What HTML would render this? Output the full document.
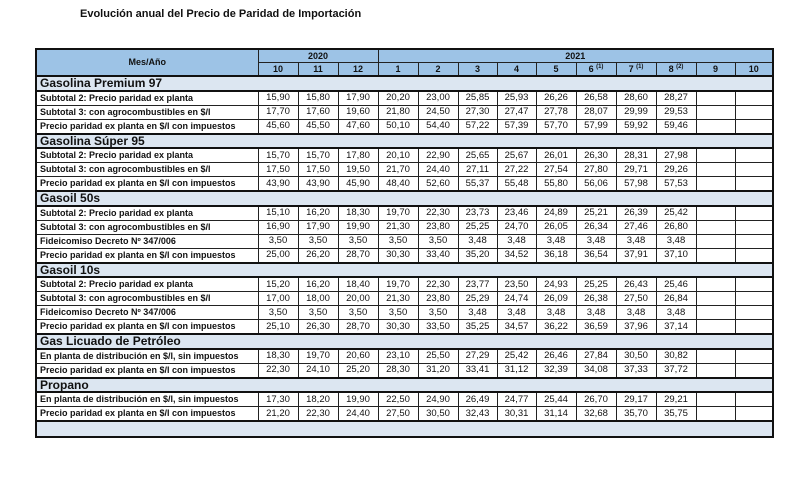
<!DOCTYPE html>
<html><head><meta charset="utf-8"><style>
body{margin:0;background:#fff;width:803px;height:482px;position:relative;overflow:hidden;font-family:"Liberation Sans",sans-serif;}
.t{position:absolute;left:80px;top:8px;font-size:11px;font-weight:bold;color:#111;}
table{position:absolute;left:35px;top:48px;border-collapse:collapse;table-layout:fixed;border:2px solid #111;}
td{border:1px solid #222;padding:0;font-size:9.5px;color:#111;text-align:center;overflow:hidden;white-space:nowrap;line-height:1;}
.h td{background:#9dc3e6;font-weight:bold;height:12px;font-size:9px;}
.g td{background:#dce6f1;font-weight:bold;font-size:12px;text-align:left;padding-left:3px;height:12.5px;border-left:none;border-right:none;border-top:2px solid #111;border-bottom:2px solid #111;}
.d td{height:13px;}
.d td:first-child{text-align:left;font-weight:bold;font-size:9px;padding-left:3px;}
.e td{background:#dce6f1;height:14px;border-top:2px solid #111;}
sup{font-size:6px;vertical-align:4px;line-height:0;}
</style></head><body>
<div class="t">Evolución anual del Precio de Paridad de Importación</div>
<table>
<colgroup><col style="width:222px"><col style="width:40px"><col style="width:40px"><col style="width:40px"><col style="width:40px"><col style="width:40px"><col style="width:39px"><col style="width:39px"><col style="width:40px"><col style="width:40px"><col style="width:40px"><col style="width:40px"><col style="width:39px"><col style="width:38px"></colgroup>
<tr class="h"><td rowspan="2">Mes/Año</td><td colspan="3">2020</td><td colspan="10">2021</td></tr>
<tr class="h"><td>10</td><td>11</td><td>12</td><td>1</td><td>2</td><td>3</td><td>4</td><td>5</td><td>6 <sup>(1)</sup></td><td>7 <sup>(1)</sup></td><td>8 <sup>(2)</sup></td><td>9</td><td>10</td></tr>
<tr class="g"><td colspan="14">Gasolina Premium 97</td></tr>
<tr class="d"><td>Subtotal 2: Precio paridad ex planta</td><td>15,90</td><td>15,80</td><td>17,90</td><td>20,20</td><td>23,00</td><td>25,85</td><td>25,93</td><td>26,26</td><td>26,58</td><td>28,60</td><td>28,27</td><td></td><td></td></tr>
<tr class="d"><td>Subtotal 3: con agrocombustibles en $/l</td><td>17,70</td><td>17,60</td><td>19,60</td><td>21,80</td><td>24,50</td><td>27,30</td><td>27,47</td><td>27,78</td><td>28,07</td><td>29,99</td><td>29,53</td><td></td><td></td></tr>
<tr class="d"><td>Precio paridad ex planta en $/l con impuestos</td><td>45,60</td><td>45,50</td><td>47,60</td><td>50,10</td><td>54,40</td><td>57,22</td><td>57,39</td><td>57,70</td><td>57,99</td><td>59,92</td><td>59,46</td><td></td><td></td></tr>
<tr class="g"><td colspan="14">Gasolina Súper 95</td></tr>
<tr class="d"><td>Subtotal 2: Precio paridad ex planta</td><td>15,70</td><td>15,70</td><td>17,80</td><td>20,10</td><td>22,90</td><td>25,65</td><td>25,67</td><td>26,01</td><td>26,30</td><td>28,31</td><td>27,98</td><td></td><td></td></tr>
<tr class="d"><td>Subtotal 3: con agrocombustibles en $/l</td><td>17,50</td><td>17,50</td><td>19,50</td><td>21,70</td><td>24,40</td><td>27,11</td><td>27,22</td><td>27,54</td><td>27,80</td><td>29,71</td><td>29,26</td><td></td><td></td></tr>
<tr class="d"><td>Precio paridad ex planta en $/l con impuestos</td><td>43,90</td><td>43,90</td><td>45,90</td><td>48,40</td><td>52,60</td><td>55,37</td><td>55,48</td><td>55,80</td><td>56,06</td><td>57,98</td><td>57,53</td><td></td><td></td></tr>
<tr class="g"><td colspan="14">Gasoil 50s</td></tr>
<tr class="d"><td>Subtotal 2: Precio paridad ex planta</td><td>15,10</td><td>16,20</td><td>18,30</td><td>19,70</td><td>22,30</td><td>23,73</td><td>23,46</td><td>24,89</td><td>25,21</td><td>26,39</td><td>25,42</td><td></td><td></td></tr>
<tr class="d"><td>Subtotal 3: con agrocombustibles en $/l</td><td>16,90</td><td>17,90</td><td>19,90</td><td>21,30</td><td>23,80</td><td>25,25</td><td>24,70</td><td>26,05</td><td>26,34</td><td>27,46</td><td>26,80</td><td></td><td></td></tr>
<tr class="d"><td>Fideicomiso Decreto Nº 347/006</td><td>3,50</td><td>3,50</td><td>3,50</td><td>3,50</td><td>3,50</td><td>3,48</td><td>3,48</td><td>3,48</td><td>3,48</td><td>3,48</td><td>3,48</td><td></td><td></td></tr>
<tr class="d"><td>Precio paridad ex planta en $/l con impuestos</td><td>25,00</td><td>26,20</td><td>28,70</td><td>30,30</td><td>33,40</td><td>35,20</td><td>34,52</td><td>36,18</td><td>36,54</td><td>37,91</td><td>37,10</td><td></td><td></td></tr>
<tr class="g"><td colspan="14">Gasoil 10s</td></tr>
<tr class="d"><td>Subtotal 2: Precio paridad ex planta</td><td>15,20</td><td>16,20</td><td>18,40</td><td>19,70</td><td>22,30</td><td>23,77</td><td>23,50</td><td>24,93</td><td>25,25</td><td>26,43</td><td>25,46</td><td></td><td></td></tr>
<tr class="d"><td>Subtotal 3: con agrocombustibles en $/l</td><td>17,00</td><td>18,00</td><td>20,00</td><td>21,30</td><td>23,80</td><td>25,29</td><td>24,74</td><td>26,09</td><td>26,38</td><td>27,50</td><td>26,84</td><td></td><td></td></tr>
<tr class="d"><td>Fideicomiso Decreto Nº 347/006</td><td>3,50</td><td>3,50</td><td>3,50</td><td>3,50</td><td>3,50</td><td>3,48</td><td>3,48</td><td>3,48</td><td>3,48</td><td>3,48</td><td>3,48</td><td></td><td></td></tr>
<tr class="d"><td>Precio paridad ex planta en $/l con impuestos</td><td>25,10</td><td>26,30</td><td>28,70</td><td>30,30</td><td>33,50</td><td>35,25</td><td>34,57</td><td>36,22</td><td>36,59</td><td>37,96</td><td>37,14</td><td></td><td></td></tr>
<tr class="g"><td colspan="14">Gas Licuado de Petróleo</td></tr>
<tr class="d"><td>En planta de distribución en $/l, sin impuestos</td><td>18,30</td><td>19,70</td><td>20,60</td><td>23,10</td><td>25,50</td><td>27,29</td><td>25,42</td><td>26,46</td><td>27,84</td><td>30,50</td><td>30,82</td><td></td><td></td></tr>
<tr class="d"><td>Precio paridad ex planta en $/l con impuestos</td><td>22,30</td><td>24,10</td><td>25,20</td><td>28,30</td><td>31,20</td><td>33,41</td><td>31,12</td><td>32,39</td><td>34,08</td><td>37,33</td><td>37,72</td><td></td><td></td></tr>
<tr class="g"><td colspan="14">Propano</td></tr>
<tr class="d"><td>En planta de distribución en $/l, sin impuestos</td><td>17,30</td><td>18,20</td><td>19,90</td><td>22,50</td><td>24,90</td><td>26,49</td><td>24,77</td><td>25,44</td><td>26,70</td><td>29,17</td><td>29,21</td><td></td><td></td></tr>
<tr class="d"><td>Precio paridad ex planta en $/l con impuestos</td><td>21,20</td><td>22,30</td><td>24,40</td><td>27,50</td><td>30,50</td><td>32,43</td><td>30,31</td><td>31,14</td><td>32,68</td><td>35,70</td><td>35,75</td><td></td><td></td></tr>
<tr class="e"><td colspan="14"></td></tr>
</table>
</body></html>
